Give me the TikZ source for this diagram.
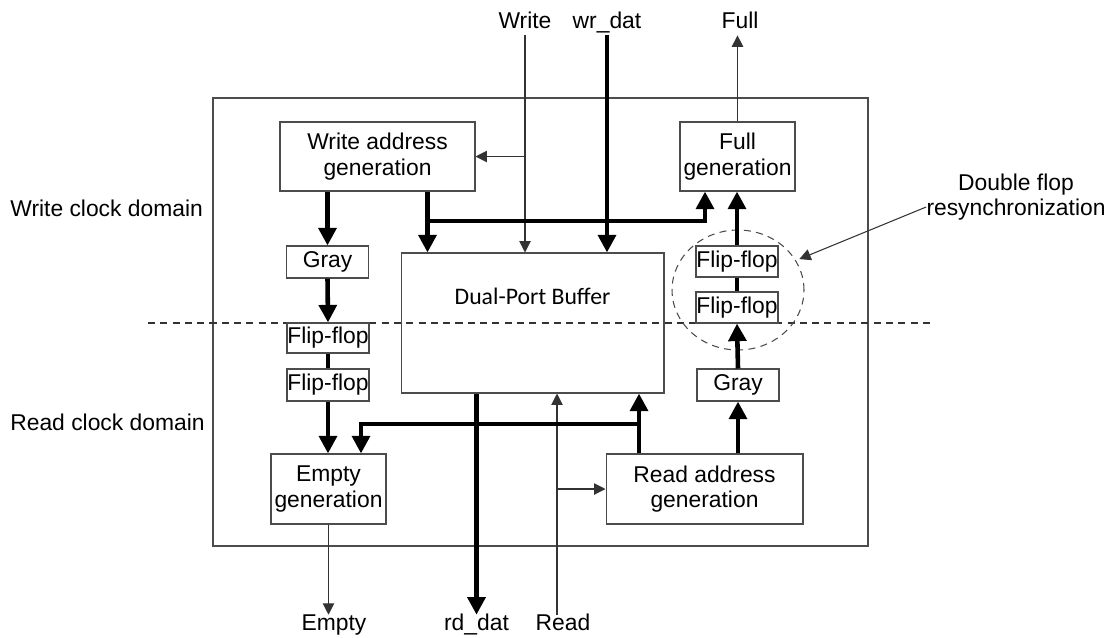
\documentclass[tikz,border=0pt]{standalone}
\usepackage{fontspec}
\setmainfont{Liberation Sans}
\newfontfamily\bufffont{Carlito}
\usepackage{tikz}
\usetikzlibrary{positioning,arrows.meta,shapes.geometric}
\tikzset{
  bus/.style={-{Triangle[length=10pt,width=10pt]}, line width=2.6pt},
  busline/.style={line width=2.6pt},
  sig/.style={-{Triangle[length=6.5pt,width=6.5pt]}, line width=0.6pt, draw=black!80},
  blockbox/.style={draw=black!70, line width=0.6pt, align=center, inner sep=0pt},
  ffbox/.style={draw=black!70, line width=0.6pt, inner sep=0pt, minimum width=1.64cm, minimum height=0.62cm},
  pinlabel/.style={anchor=base, inner sep=1pt, text height=0.75em, text depth=0.3em},
  domainlabel/.style={anchor=west, inner sep=0pt}
}

\begin{document}
\begin{tikzpicture}[x=0.02cm, y=-0.02cm, every node/.style={font=\fontsize{13}{14.5}\selectfont}]
  \useasboundingbox (0,0) rectangle (1105,637);
  \draw[black!70, line width=0.6pt] (213,98) rectangle (868,546);
  \draw[black!80, line width=0.6pt, dash pattern=on 4pt off 3pt] (148,323) -- (935,323);

  % blocks
  \node[blockbox, minimum width=3.9cm, minimum height=1.38cm] (wag) at (377.5,156.5) {Write address\\generation};
  \node[blockbox, minimum width=2.3cm, minimum height=1.38cm] (fgen) at (737.5,156.5) {Full\\generation};
  \node[blockbox, minimum width=5.26cm, minimum height=2.8cm,
        label={[font=\bufffont\fontsize{13.5}{15}\selectfont, yshift=0.54cm]center:Dual-Port Buffer}] (buf) at (532.5,323) {};
  \node[ffbox, minimum height=0.64cm] (grayw) at (327.5,262) {Gray};
  \node[ffbox, minimum height=0.6cm] (ffw1) at (328,338) {Flip-flop};
  \node[ffbox, minimum height=0.64cm] (ffw2) at (328,385) {Flip-flop};
  \node[blockbox, minimum width=2.3cm, minimum height=1.4cm] (egen) at (328.5,489) {Empty\\generation};
  \node[blockbox, minimum width=3.94cm, minimum height=1.4cm] (rag) at (704.5,489) {Read address\\generation};
  \node[ffbox, minimum height=0.64cm] (grayr) at (738,385) {Gray};
  \node[ffbox] (ffr1) at (737,261.5) {Flip-flop};
  \node[ffbox] (ffr2) at (737,307.5) {Flip-flop};
  \node[ellipse, draw=black!70, line width=0.6pt, dash pattern=on 4pt off 3pt,
        minimum width=2.64cm, minimum height=2.4cm] (ring) at (738,290) {};

  % pins and labels
  \node[pinlabel] (wlbl) at (525,28) {Write};
  \node[pinlabel] (dlbl) at (607,28) {wr\_dat};
  \node[pinlabel] (flbl) at (740,28) {Full};
  \node[pinlabel] (elbl) at (334,630) {Empty};
  \node[pinlabel] (rdlbl) at (476.5,630) {rd\_dat};
  \node[pinlabel] (rlbl) at (563,630) {Read};
  \node[domainlabel] (wdom) at (10,208) {Write clock domain};
  \node[domainlabel] (rdom) at (10,422) {Read clock domain};
  \node[align=center, inner sep=0pt] (dbl) at (1016,197) {Double flop\\resynchronization};

  \coordinate (wtap) at ([xshift=1cm]wag.south);
  \coordinate (wjoin) at (427.5,221);
  \coordinate (ftap) at ([xshift=-0.65cm]fgen.south);
  \coordinate (rtap) at ([xshift=-0.12cm]rlbl.north);
  \coordinate (rtop) at ([xshift=-1.31cm]rag.north);
  \coordinate (rjoin) at (639,424);
  \coordinate (etap) at ([xshift=0.65cm]egen.north);

  % write side
  \draw[sig] (wlbl.south) -- (wlbl.south |- buf.north);
  \draw[sig] (wlbl.south |- wag.east) -- (wag.east);
  \draw[bus] (dlbl.south) -- (dlbl.south |- buf.north);
  \draw[bus] (wtap) -- (wtap |- buf.north);
  \draw[bus] (wjoin) -| (ftap);
  \draw[bus] (grayw |- wag.south) -- (grayw.north);
  \draw[bus] (grayw.south) -- (ffw1.north);
  \draw[busline] (ffw1.south) -- (ffw2.north);
  \draw[bus] (ffw2.south) -- (ffw2.south |- egen.north);
  \draw[sig] (fgen.north) -- (fgen.north |- flbl.south);

  % read side
  \draw[sig] (egen.south) -- (egen.south |- elbl.north);
  \draw[bus] (rdlbl |- buf.south) -- (rdlbl.north);
  \draw[sig] (rtap) -- (rtap |- buf.south);
  \draw[sig] (rtap |- rag.west) -- (rag.west);
  \draw[bus] (rtop) -- (rtop |- buf.south);
  \draw[bus] (rjoin) -| (etap);
  \draw[bus] (grayr |- rag.north) -- (grayr.south);
  \draw[bus] (grayr.north) -- (ffr2.south);
  \draw[busline] (ffr2.north) -- (ffr1.south);
  \draw[bus] (ffr1.north) -- (ffr1.north |- fgen.south);

  \draw[sig, shorten >=2pt] ([yshift=-0.2cm]dbl.west) -- (ring.27);
\end{tikzpicture}
\end{document}
